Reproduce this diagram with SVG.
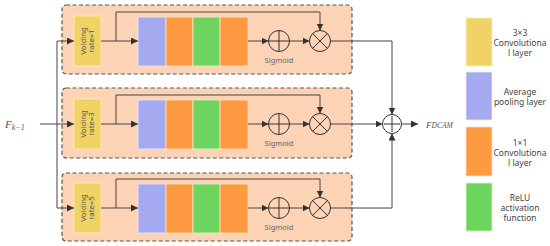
<svg xmlns="http://www.w3.org/2000/svg" width="550" height="246" viewBox="0 0 550 246">
<defs>
<marker id="ah" viewBox="0 0 10 10" refX="10" refY="5" markerWidth="7" markerHeight="7" markerUnits="userSpaceOnUse" orient="auto">
<path d="M0,0 L10,5 L0,10 z" fill="#333"/>
</marker>
<style>
.panel{fill:#FDD3B5;stroke:#555;stroke-width:1.2;stroke-dasharray:4,2.5}
.yel{fill:#F0D265;stroke:#FBEFC8;stroke-width:0.8}
.blu{fill:#A5A9F0;stroke:#F2E8F0;stroke-width:0.8}
.org{fill:#FD9A42;stroke:#FDE0C8;stroke-width:0.8}
.grn{fill:#6DD45E;stroke:#E0F2D0;stroke-width:0.8}
.ln{fill:none;stroke:#444;stroke-width:1}
.arr{fill:none;stroke:#444;stroke-width:1;marker-end:url(#ah)}
.op{fill:none;stroke:#333;stroke-width:1}
.vt{font-family:"Noto Sans",sans-serif;font-size:7.8px;fill:#555;text-anchor:middle}
.sg{font-family:"Noto Sans",sans-serif;font-size:7.5px;fill:#666;text-anchor:middle}
.lg{font-family:"Noto Sans",sans-serif;font-size:8.5px;fill:#444;text-anchor:middle}
.mt{font-family:"Liberation Serif",serif;font-style:italic;fill:#555}
</style>
</defs>
<rect width="550" height="246" fill="#fff"/>

<g id="panel1">
<rect class="panel" x="62" y="5" width="290" height="69" rx="4"/>
<rect class="yel" x="74" y="16" width="27" height="50"/>
<text class="vt" transform="translate(86,41) rotate(-90)">Voiding</text>
<text class="vt" transform="translate(94,41) rotate(-90)">rate=1</text>
<rect class="blu" x="138" y="17" width="28" height="49"/>
<rect class="org" x="166" y="17" width="27" height="49"/>
<rect class="grn" x="193" y="17" width="27" height="49"/>
<rect class="org" x="220" y="17" width="28" height="49"/>
<g id="sig1"><circle class="op" cx="279" cy="41" r="10.5"/><path class="op" d="M268.5,41 H289.5 M279,30.5 V51.5"/></g>
<text class="sg" x="279" y="63">Sigmoid</text>
<g id="mul1"><circle class="op" cx="320" cy="41" r="10.5"/><path class="op" d="M312.6,33.6 L327.4,48.4 M327.4,33.6 L312.6,48.4"/></g>
</g>

<g id="panel2">
<rect class="panel" x="62" y="88" width="290" height="70" rx="4"/>
<rect class="yel" x="74" y="99" width="27" height="50"/>
<text class="vt" transform="translate(86,124) rotate(-90)">Voiding</text>
<text class="vt" transform="translate(94,124) rotate(-90)">rate=3</text>
<rect class="blu" x="138" y="100" width="28" height="49"/>
<rect class="org" x="166" y="100" width="27" height="49"/>
<rect class="grn" x="193" y="100" width="27" height="49"/>
<rect class="org" x="220" y="100" width="28" height="49"/>
<g id="sig2"><circle class="op" cx="279" cy="124" r="10.5"/><path class="op" d="M268.5,124 H289.5 M279,113.5 V134.5"/></g>
<text class="sg" x="279" y="146">Sigmoid</text>
<g id="mul2"><circle class="op" cx="320" cy="124" r="10.5"/><path class="op" d="M312.6,116.6 L327.4,131.4 M327.4,116.6 L312.6,131.4"/></g>
</g>

<g id="panel3">
<rect class="panel" x="62" y="173" width="290" height="68" rx="4"/>
<rect class="yel" x="74" y="183" width="27" height="50"/>
<text class="vt" transform="translate(86,208) rotate(-90)">Voiding</text>
<text class="vt" transform="translate(94,208) rotate(-90)">rate=5</text>
<rect class="blu" x="138" y="184" width="28" height="49"/>
<rect class="org" x="166" y="184" width="27" height="49"/>
<rect class="grn" x="193" y="184" width="27" height="49"/>
<rect class="org" x="220" y="184" width="28" height="49"/>
<g id="sig3"><circle class="op" cx="279" cy="208" r="10.5"/><path class="op" d="M268.5,208 H289.5 M279,197.5 V218.5"/></g>
<text class="sg" x="279" y="230">Sigmoid</text>
<g id="mul3"><circle class="op" cx="320" cy="208" r="10.5"/><path class="op" d="M312.6,200.6 L327.4,215.4 M327.4,200.6 L312.6,215.4"/></g>
</g>

<g id="sum">
<circle class="op" cx="392" cy="124" r="9.5"/>
<path class="op" d="M384,124 H400 M392,116 V132"/>
</g>

<g id="input">
<text class="mt" x="5" y="128" font-size="11">F<tspan font-size="8" dy="1.5">k−1</tspan></text>
</g>
<g id="output">
<text class="mt" x="426" y="128" font-size="9">F<tspan font-size="7.5">DCAM</tspan></text>
</g>

<g id="connectors">
<path class="ln" d="M57,41 V208"/>
<path class="arr" d="M57,41 H74"/>
<path class="arr" d="M40,124 H74"/>
<path class="arr" d="M57,208 H74"/>

<path class="arr" d="M101,41 H138"/>
<path class="arr" d="M116,41 V12 H320 V30.5"/>
<path class="arr" d="M248,41 H268.5"/>
<path class="arr" d="M289.5,41 H309.5"/>
<path class="arr" d="M330.5,41 H392 V114.5"/>

<path class="arr" d="M101,124 H138"/>
<path class="arr" d="M116,124 V95 H320 V113.5"/>
<path class="arr" d="M248,124 H268.5"/>
<path class="arr" d="M289.5,124 H309.5"/>
<path class="arr" d="M330.5,124 H382.5"/>

<path class="arr" d="M101,208 H138"/>
<path class="arr" d="M116,208 V179 H320 V197.5"/>
<path class="arr" d="M248,208 H268.5"/>
<path class="arr" d="M289.5,208 H309.5"/>
<path class="arr" d="M330.5,208 H392 V133.5"/>

<path class="arr" d="M401.5,124 H418"/>
</g>

<g id="legend">
<rect class="yel" x="466" y="18" width="26" height="48" stroke="none"/>
<text class="lg" x="520" y="36">3×3</text>
<text class="lg" x="520" y="46">Convolutiona</text>
<text class="lg" x="520" y="56">l layer</text>
<rect class="blu" x="466" y="72" width="26" height="48" stroke="none"/>
<text class="lg" x="520" y="95">Average</text>
<text class="lg" x="520" y="105">pooling layer</text>
<rect class="org" x="466" y="127" width="26" height="49" stroke="none"/>
<text class="lg" x="520" y="146">1×1</text>
<text class="lg" x="520" y="156">Convolutiona</text>
<text class="lg" x="520" y="166">l layer</text>
<rect class="grn" x="466" y="183" width="26" height="48" stroke="none"/>
<text class="lg" x="520" y="201">ReLU</text>
<text class="lg" x="520" y="211">activation</text>
<text class="lg" x="520" y="221">function</text>
</g>
</svg>
